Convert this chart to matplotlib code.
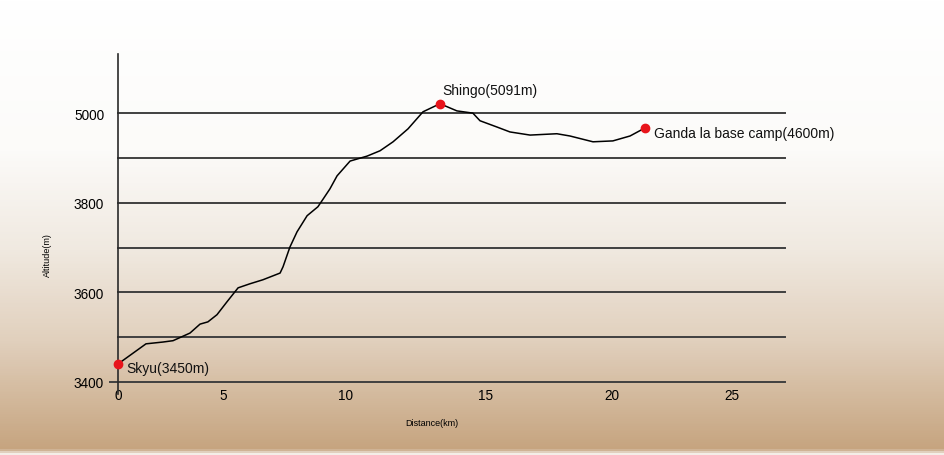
import numpy as np
import matplotlib
matplotlib.use('Agg')
import matplotlib.pyplot as plt
from matplotlib.colors import LinearSegmentedColormap

plt.rcParams['font.family'] = ['Liberation Sans', 'DejaVu Sans']

# trail profile
dist_km = [0, 1.14, 1.83, 2.24, 2.93, 3.34, 3.66, 4.03, 4.44, 4.89, 5.37, 5.90,
           6.60, 6.72, 7.00, 7.29, 7.70, 8.14, 8.35, 8.63, 8.92, 9.45, 10.14,
           10.67, 11.20, 11.81, 12.42, 13.11, 13.80, 14.45, 14.74, 15.43, 15.96,
           16.78, 17.87, 18.40, 19.34, 20.15, 20.85, 21.46]
alt_m = [3440, 3485, 3489, 3492, 3509, 3529, 3534, 3550, 3579, 3610, 3619, 3628,
         3643, 3657, 3701, 3735, 3771, 3791, 3808, 3831, 3860, 3893, 3904,
         3916, 3936, 3965, 4003, 4021, 4005, 4000, 3983, 3969, 3958,
         3951, 3954, 3949, 3936, 3938, 3949, 3967]

camp_names = ['Skyu(3450m)', 'Shingo(5091m)', 'Ganda la base camp(4600m)']
camp_idx = [0, 27, 39]

grid_levels = [3400, 3500, 3600, 3700, 3800, 3900, 4000]
ytick_pos = [3400, 3600, 3800, 4000]
ytick_labels = ['3400', '3600', '3800', '5000']
xtick_pos = [0, 4.28, 9.25, 14.98, 20.11, 25]
xtick_labels = ['0', '5', '10', '15', '20', '25']

fig = plt.figure(figsize=(9.44, 4.56), dpi=100)

# paper-like background, white at top fading to tan
bg = fig.add_axes([0, 0, 1, 1], zorder=-10)
cmap = LinearSegmentedColormap.from_list(
    'paper', [(0, '#ffffff'), (0.33, '#fcfbf9'), (0.55, '#f0e9e0'),
              (0.75, '#e1d0bd'), (0.99, '#c6a47f'), (1.0, '#f4eee8')])
grad = np.linspace(0, 1, 456).reshape(-1, 1)
bg.imshow(grad, aspect='auto', cmap=cmap, extent=[0, 1, 0, 1], origin='upper')
bg.axis('off')

ax = fig.add_axes([118 / 944, 1 - 395 / 456, 682 / 944, 340 / 456])
ax.patch.set_alpha(0)
ax.set_xlim(0, 27.77)
ax.set_ylim(3373, 4132)

for lvl in grid_levels:
    x0 = -0.012 if lvl == 3400 else 0
    ax.axhline(lvl, xmin=x0, xmax=0.978, color='#404040', lw=1.4, clip_on=False)

ax.plot(dist_km, alt_m, color='black', lw=1.1,
        solid_joinstyle='round', solid_capstyle='round')
ax.plot([dist_km[i] for i in camp_idx], [alt_m[i] for i in camp_idx], 'o',
        color='#e8141b', ms=6, zorder=5, clip_on=False)

offsets = [(0.35, -8), (0.1, 30), (0.35, -12)]
for name, i, (dx, dy) in zip(camp_names, camp_idx, offsets):
    ax.text(dist_km[i] + dx, alt_m[i] + dy, name, fontsize=10,
            ha='left', va='center', color='#111111')

for s in ['top', 'right', 'bottom']:
    ax.spines[s].set_visible(False)
ax.spines['left'].set_color('#2a2a2a')
ax.spines['left'].set_linewidth(1.2)

ax.set_yticks(ytick_pos)
ax.set_yticklabels(ytick_labels, fontsize=9.8)
ax.set_xticks(xtick_pos)
ax.set_xticklabels(xtick_labels, fontsize=9.8)
ax.tick_params(axis='y', length=0, pad=10)
ax.tick_params(axis='x', length=0, pad=-4)

fig.text(47 / 944, 1 - 255 / 456, 'Altitude(m)', rotation=90, fontsize=6.5,
         ha='center', va='center')
fig.text(432 / 944, 1 - 424 / 456, 'Distance(km)', fontsize=6.5,
         ha='center', va='center')

fig.savefig('out.png', dpi=100)
